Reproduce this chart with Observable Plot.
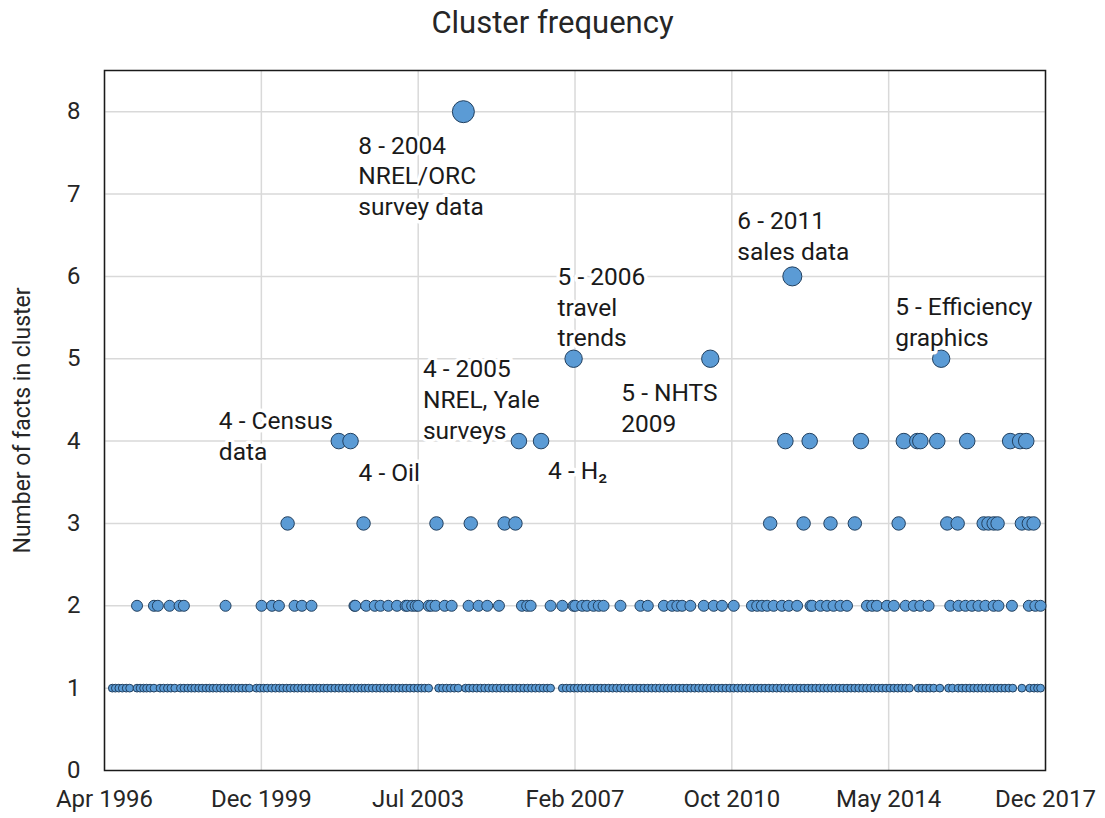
<!DOCTYPE html>
<html><head><meta charset="utf-8">
<script src="https://cdn.jsdelivr.net/npm/d3@7"></script>
<script src="https://cdn.jsdelivr.net/npm/@observablehq/plot@0.6"></script>
<style>
body{margin:0;background:#fff;font-family:Roboto,"Liberation Sans",sans-serif;}
#title{height:45px;text-align:center;font-size:31px;line-height:45px;color:#262626;}
</style></head><body>
<div id="title">Cluster frequency</div>
<div id="chart"></div>
<script>
// x tick positions (decimal years) and their labels
const tickYears = [1996.3005, 1999.915, 2003.529, 2007.1425, 2010.756, 2014.370, 2017.984];
const tickLabels = ["Apr 1996", "Dec 1999", "Jul 2003", "Feb 2007", "Oct 2010", "May 2014", "Dec 2017"];
const yTicks = [0, 1, 2, 3, 4, 5, 6, 7, 8];

// cluster dates (decimal years) by number of facts in cluster
const years1 = [1996.48,1996.55,1996.63,1996.71,1996.80,1996.88,1997.05,1997.12,1997.20,1997.27,1997.35,1997.44,1997.58,1997.66,1997.75,1997.83,1997.92,1998.05,1998.13,1998.22,1998.30,1998.38,1998.47,1998.55,1998.64,1998.72,1998.80,1998.88,1998.97,1999.05,1999.14,1999.22,1999.30,1999.39,1999.47,1999.56,1999.64,1999.80,1999.88,1999.97,2000.05,2000.15,2000.24,2000.33,2000.41,2000.50,2000.58,2000.67,2000.75,2000.84,2000.92,2001.01,2001.10,2001.18,2001.26,2001.35,2001.43,2001.52,2001.61,2001.70,2001.78,2001.87,2001.95,2002.04,2002.13,2002.22,2002.30,2002.38,2002.47,2002.56,2002.65,2002.73,2002.82,2002.90,2002.99,2003.08,2003.17,2003.25,2003.34,2003.43,2003.52,2003.60,2003.68,2003.77,2004.00,2004.09,2004.18,2004.27,2004.36,2004.45,2004.62,2004.70,2004.79,2004.88,2004.97,2005.06,2005.15,2005.24,2005.33,2005.42,2005.51,2005.60,2005.69,2005.78,2005.87,2005.96,2006.05,2006.14,2006.23,2006.32,2006.41,2006.50,2006.58,2006.85,2006.94,2007.03,2007.12,2007.20,2007.29,2007.38,2007.47,2007.56,2007.65,2007.74,2007.83,2007.92,2008.01,2008.10,2008.19,2008.28,2008.37,2008.46,2008.55,2008.64,2008.73,2008.82,2008.91,2009.00,2009.09,2009.18,2009.27,2009.36,2009.45,2009.54,2009.63,2009.72,2009.81,2009.90,2009.99,2010.08,2010.17,2010.26,2010.35,2010.44,2010.53,2010.62,2010.71,2010.80,2010.89,2010.98,2011.07,2011.16,2011.25,2011.34,2011.43,2011.52,2011.61,2011.70,2011.79,2011.88,2011.97,2012.06,2012.15,2012.24,2012.33,2012.42,2012.51,2012.60,2012.69,2012.78,2012.87,2012.96,2013.05,2013.14,2013.23,2013.32,2013.41,2013.50,2013.59,2013.68,2013.77,2013.86,2013.95,2014.04,2014.13,2014.22,2014.31,2014.40,2014.49,2014.58,2014.67,2014.76,2014.85,2015.05,2015.14,2015.23,2015.32,2015.41,2015.55,2015.75,2015.84,2015.97,2016.06,2016.15,2016.24,2016.33,2016.42,2016.51,2016.60,2016.69,2016.78,2016.87,2016.96,2017.05,2017.14,2017.23,2017.44,2017.62,2017.72,2017.80,2017.87];
const years2 = [1997.05,1997.44,1997.53,1997.80,1998.03,1998.13,1999.09,1999.92,2000.16,2000.32,2000.68,2000.85,2001.07,2002.06,2002.08,2002.33,2002.53,2002.66,2002.84,2003.04,2003.24,2003.28,2003.39,2003.47,2003.53,2003.77,2003.83,2003.93,2004.14,2004.30,2004.69,2004.92,2005.12,2005.39,2005.92,2006.04,2006.12,2006.58,2006.85,2007.11,2007.15,2007.31,2007.42,2007.57,2007.69,2007.80,2008.19,2008.65,2008.82,2009.19,2009.38,2009.50,2009.61,2009.80,2010.11,2010.34,2010.53,2010.80,2011.22,2011.34,2011.45,2011.57,2011.72,2011.91,2012.07,2012.26,2012.57,2012.61,2012.80,2012.95,2013.10,2013.26,2013.41,2013.87,2013.99,2014.10,2014.33,2014.49,2014.76,2014.95,2015.10,2015.29,2015.79,2015.98,2016.14,2016.29,2016.44,2016.60,2016.79,2016.90,2017.21,2017.60,2017.75,2017.87];
const years3 = [2000.52,2002.27,2003.95,2004.74,2005.52,2005.77,2011.64,2012.41,2013.03,2013.59,2014.60,2015.72,2015.96,2016.56,2016.67,2016.79,2016.88,2017.44,2017.60,2017.71];
const years4 = [2001.70,2001.97,2005.85,2006.36,2011.99,2012.55,2013.73,2014.72,2015.03,2015.10,2015.49,2016.18,2017.17,2017.40,2017.54];
const years5 = [2007.11,2010.26,2015.58];
const years6 = [2012.15];
const years8 = [2004.57];

// annotations: text, and the cluster (year, size) each one describes
const labelTexts = ["8 - 2004\nNREL/ORC\nsurvey data","4 - Census\ndata","4 - Oil","4 - 2005\nNREL, Yale\nsurveys","4 - H\u2082","5 - 2006\ntravel\ntrends","5 - NHTS\n2009","6 - 2011\nsales data","5 - Efficiency\ngraphics"];
const labelYears = [2004.57, 2001.70, 2001.97, 2005.85, 2006.36, 2007.11, 2010.26, 2012.15, 2015.58];
const labelSizes = [8, 4, 4, 4, 4, 5, 5, 6, 5];

// layout offsets for each annotation (px)
const labelOffsets = [[-105,20],[-120,-34],[8,18],[-96,-86],[7,16],[-16,-96],[-89,20],[-55,-69],[-46,-66]];

const points = [];
[[years1,1],[years2,2],[years3,3],[years4,4],[years5,5],[years6,6],[years8,8]].forEach(([ys,n]) => ys.forEach(y => points.push({year:y, n})));
const labels = labelTexts.map((t,i) => ({text:t, year:labelYears[i], n:labelSizes[i]}));

const fmt = d => tickLabels[tickYears.indexOf(d)];
const textMarks = labels.map((l,i) => Plot.text([l], {
  x:"year", y:"n", text:"text", dx:labelOffsets[i][0], dy:labelOffsets[i][1],
  textAnchor:"start", lineAnchor:"top", lineHeight:1.26, fontSize:24.5,
  fill:"#1a1a1a", stroke:"white", strokeWidth:7
}));

const chart = Plot.plot({
  width:1105, height:773,
  marginLeft:104, marginRight:60, marginTop:25, marginBottom:48,
  style:{fontFamily:"Roboto, 'Liberation Sans', sans-serif", color:"#262626", background:"white"},
  x:{domain:[tickYears[0], tickYears[6]]},
  y:{domain:[0,8.5]},
  r:{type:"sqrt", domain:[0,8], range:[0,11]},
  marks:[
    Plot.gridX(tickYears, {stroke:"#d9d9d9", strokeOpacity:1, strokeWidth:1.5}),
    Plot.gridY(yTicks.slice(1), {stroke:"#d9d9d9", strokeOpacity:1, strokeWidth:1.5}),
    Plot.axisX(tickYears, {tickSize:0, tickPadding:19, fontSize:24, tickFormat:fmt, label:null}),
    Plot.axisY(yTicks, {tickSize:0, tickPadding:24, fontSize:24, tickFormat:"d", label:null}),
    Plot.text(["Number of facts in cluster"], {frameAnchor:"left", textAnchor:"middle", dx:-82, rotate:-90, fontSize:23, fill:"#262626"}),
    Plot.frame({stroke:"#1a1a1a", strokeWidth:1.5}),
    Plot.dot(points, {x:"year", y:"n", r:"n", fill:"#5b9bd5", stroke:"#22405f", strokeWidth:1}),
    ...textMarks
  ]
});
document.getElementById("chart").appendChild(chart);
</script>
</body></html>
